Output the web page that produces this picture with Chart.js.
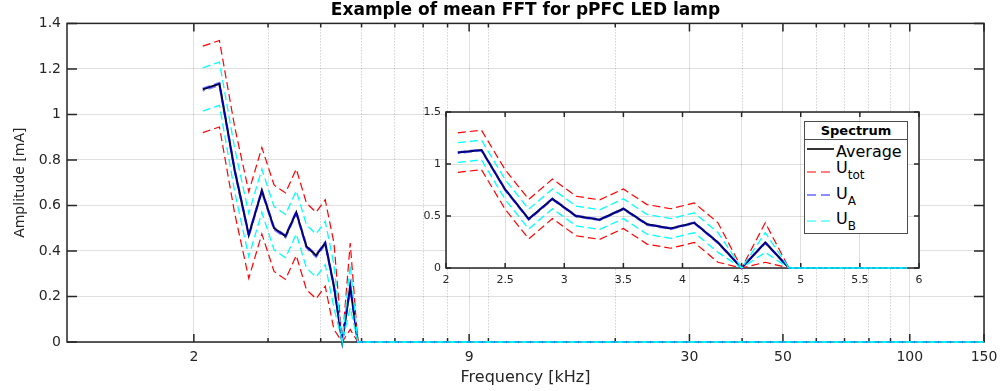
<!DOCTYPE html>
<html lang="en">
<head>
<meta charset="UTF-8">
<title>Example of mean FFT for pPFC LED lamp</title>
<script src="https://cdn.jsdelivr.net/npm/chart.js@4.4.0/dist/chart.umd.min.js"></script>
<style>
  body { margin: 0; background: #fff; overflow: hidden; }
  #wrap { position: relative; width: 1003px; height: 391px; }
  #main { position: absolute; left: 0; top: 0; }
  #inset { position: absolute; left: 410px; top: 100px; }
  #legend {
    position: absolute; left: 804px; top: 121px; width: 104px; height: 113px;
    box-sizing: border-box; border: 1px solid #4d4d4d; background: #fff;
    font-family: 'DejaVu Sans', sans-serif; color: #000;
  }
  #legend .ttl {
    position: absolute; left: 0; top: 0; width: 102px; height: 17px; line-height: 17px;
    text-align: center; font-weight: bold; font-size: 13px; border-bottom: 1px solid #4d4d4d;
  }
  #legend .row { position: absolute; left: 31px; height: 20px; line-height: 20px; font-size: 16px; white-space: nowrap; }
  #legend .row span { font-size: 12px; position: relative; top: 6px; }
  #legend svg { position: absolute; left: 2px; }
</style>
</head>
<body>
<div id="wrap">
  <canvas id="main" width="1003" height="391"></canvas>
  <canvas id="inset" width="520" height="195"></canvas>
  <div id="legend">
    <div class="ttl">Spectrum</div>
    <svg width="27" height="6" style="top:24px"><line x1="0" y1="3" x2="27" y2="3" stroke="#000" stroke-width="1.6"/></svg>
    <div class="row" style="top:20px">Average</div>
    <svg width="27" height="6" style="top:47px"><line x1="0" y1="3" x2="27" y2="3" stroke="#ff0000" stroke-width="1" stroke-dasharray="9 5"/></svg>
    <div class="row" style="top:36px">U<span>tot</span></div>
    <svg width="27" height="6" style="top:70px"><line x1="0" y1="3" x2="27" y2="3" stroke="rgba(0,0,255,0.45)" stroke-width="2.2" stroke-dasharray="9 5"/></svg>
    <div class="row" style="top:62px">U<span>A</span></div>
    <svg width="27" height="6" style="top:96px"><line x1="0" y1="3" x2="27" y2="3" stroke="#00ffff" stroke-width="1" stroke-dasharray="9 5"/></svg>
    <div class="row" style="top:87px">U<span>B</span></div>
  </div>
</div>
<script>
// frequency bins [kHz]; the last bin closes the zero level at the end of the axis
const freqs   = [2.1, 2.3, 2.5, 2.7, 2.9, 3.1, 3.3, 3.5, 3.7, 3.9, 4.1, 4.3, 4.5, 4.7, 4.9, 5.1, 5.3, 5.5, 5.7, 5.9, 150];
// mean amplitude [mA]
const average = [1.11, 1.135, 0.755, 0.47, 0.665, 0.5, 0.465, 0.57, 0.42, 0.38, 0.435, 0.245, 0, 0.245, 0, 0, 0, 0, 0, 0, 0];
// uncertainty bounds
const uTotHi  = [1.3, 1.325, 0.945, 0.66, 0.855, 0.69, 0.655, 0.76, 0.61, 0.57, 0.625, 0.435, 0, 0.435, 0, 0, 0, 0, 0, 0, 0];
const uTotLo  = [0.92, 0.945, 0.565, 0.28, 0.475, 0.31, 0.275, 0.38, 0.23, 0.19, 0.245, 0.055, 0, 0.055, 0, 0, 0, 0, 0, 0, 0];
const uAHi    = [1.114, 1.139, 0.759, 0.474, 0.669, 0.504, 0.469, 0.574, 0.424, 0.384, 0.439, 0.249, 0, 0.249, 0, 0, 0, 0, 0, 0, 0];
const uALo    = [1.104, 1.129, 0.749, 0.464, 0.659, 0.494, 0.459, 0.564, 0.414, 0.374, 0.429, 0.239, 0, 0.239, 0, 0, 0, 0, 0, 0, 0];
const uBHi    = [1.205, 1.23, 0.85, 0.565, 0.76, 0.595, 0.56, 0.665, 0.515, 0.475, 0.53, 0.34, 0, 0.34, 0, 0, 0, 0, 0, 0, 0];
const uBLo    = [1.015, 1.04, 0.66, 0.375, 0.57, 0.405, 0.37, 0.475, 0.325, 0.285, 0.34, 0.15, 0, 0.15, 0, 0, 0, 0, 0, 0, 0];

// axis ticks
const mainXLabels = [2, 9, 30, 50, 100, 150];
const mainXMinor  = [3, 4, 5, 6, 7, 8, 10, 20, 40, 60, 70, 80, 90];
const mainYTicks  = [0, 0.2, 0.4, 0.6, 0.8, 1, 1.2, 1.4];
const insetXTicks = [2, 2.5, 3, 3.5, 4, 4.5, 5, 5.5, 6];
const insetYTicks = [0, 0.5, 1, 1.5];

const FONT = "'DejaVu Sans', sans-serif";
const TXT = '#262626';
const GRID = 'rgba(38,38,38,0.15)';
const GRID_MINOR = 'rgba(38,38,38,0.3)';

function series(ys, n) {
  return ys.slice(0, n).map((y, i) => ({ x: freqs[i], y }));
}

// first dataset ends up on top: U_B over U_A over U_tot over the average
function makeDatasets(n) {
  // clip off so the zero level stays visible on top of the axis line
  const base = { pointRadius: 0, fill: false, tension: 0, clip: false };
  return [
    { ...base, label: 'U_B', data: series(uBHi, n), borderColor: '#00ffff', borderWidth: 1.3, borderDash: [8, 4] },
    { ...base, label: 'U_B', data: series(uBLo, n), borderColor: '#00ffff', borderWidth: 1.3, borderDash: [8, 4] },
    { ...base, label: 'U_A', data: series(uAHi, n), borderColor: 'rgba(0,0,255,0.5)', borderWidth: 2, borderDash: [8, 4] },
    { ...base, label: 'U_A', data: series(uALo, n), borderColor: 'rgba(0,0,255,0.5)', borderWidth: 2, borderDash: [8, 4], borderDashOffset: 6 },
    { ...base, label: 'U_tot', data: series(uTotHi, n), borderColor: '#ff0000', borderWidth: 1.2, borderDash: [8, 4] },
    { ...base, label: 'U_tot', data: series(uTotLo, n), borderColor: '#ff0000', borderWidth: 1.2, borderDash: [8, 4] },
    { ...base, label: 'Average', data: series(average, n), borderColor: '#000', borderWidth: 2 }
  ];
}

// box around the axes with inward tick marks
const axesBox = {
  id: 'axesBox',
  beforeDraw(chart, args, opts) {
    if (!opts.fill) return;
    const a = chart.chartArea;
    chart.ctx.save();
    chart.ctx.fillStyle = '#fff';
    chart.ctx.fillRect(a.left, a.top, a.right - a.left, a.bottom - a.top);
    chart.ctx.restore();
  },
  beforeDatasetsDraw(chart, args, opts) {
    const { ctx, chartArea: a, scales: { x, y } } = chart;
    ctx.save();
    ctx.strokeStyle = TXT;
    ctx.lineWidth = opts.width;
    ctx.strokeRect(a.left, a.top, a.right - a.left, a.bottom - a.top);
    ctx.beginPath();
    x.ticks.forEach(t => {
      const px = x.getPixelForValue(t.value);
      const len = t.label ? opts.xLen : opts.xMinor;
      ctx.moveTo(px, a.bottom); ctx.lineTo(px, a.bottom - len);
      ctx.moveTo(px, a.top); ctx.lineTo(px, a.top + len);
    });
    y.ticks.forEach(t => {
      const py = y.getPixelForValue(t.value);
      ctx.moveTo(a.left, py); ctx.lineTo(a.left + opts.yLen, py);
      ctx.moveTo(a.right, py); ctx.lineTo(a.right - opts.yLen, py);
    });
    ctx.stroke();
    ctx.restore();
  }
};

const fmt = v => String(+v.toFixed(2));
const isLabeled = v => mainXLabels.includes(v);

new Chart(document.getElementById('main'), {
  type: 'line',
  data: { datasets: makeDatasets(freqs.length) },
  options: {
    responsive: false,
    animation: false,
    events: [],
    layout: { padding: { right: 19 } },
    plugins: {
      legend: { display: false },
      tooltip: { enabled: false },
      title: {
        display: true,
        fullSize: false,
        text: 'Example of mean FFT for pPFC LED lamp',
        color: '#000',
        font: { family: FONT, size: 17, weight: 'bold' },
        padding: { top: 0, bottom: 3 }
      },
      axesBox: { width: 1.5, xLen: 8, xMinor: 4, yLen: 10 }
    },
    scales: {
      x: {
        type: 'logarithmic',
        min: 1,
        max: 150,
        afterBuildTicks: s => {
          s.ticks = mainXLabels.concat(mainXMinor).sort((a, b) => a - b).map(v => ({ value: v }));
        },
        afterFit: s => { s.height = 49; s.paddingLeft = 0; s.paddingRight = 0; },
        ticks: {
          autoSkip: false, maxRotation: 0, padding: 7, color: TXT,
          font: { family: FONT, size: 14 },
          callback: v => isLabeled(v) ? String(v) : ''
        },
        grid: {
          drawTicks: false,
          color: c => (c.tick && !isLabeled(c.tick.value)) ? GRID_MINOR : GRID
        },
        border: {
          display: false,
          dash: c => (c.tick && !isLabeled(c.tick.value)) ? [1, 2] : []
        },
        title: {
          display: true, text: 'Frequency [kHz]', color: TXT,
          font: { family: FONT, size: 16 }, padding: { top: 0, bottom: 4 }
        }
      },
      y: {
        min: 0,
        max: 1.4,
        afterBuildTicks: s => { s.ticks = mainYTicks.map(v => ({ value: v })); },
        afterFit: s => { s.width = 67; s.paddingTop = 0; s.paddingBottom = 0; },
        ticks: { padding: 6, color: TXT, font: { family: FONT, size: 14 }, callback: fmt },
        grid: { drawTicks: false, color: GRID },
        border: { display: false },
        title: {
          display: true, text: 'Amplitude [mA]', color: TXT,
          font: { family: FONT, size: 14 }, padding: { top: 12, bottom: 0 }
        }
      }
    }
  },
  plugins: [axesBox]
});

// zoomed view of the low-frequency part
new Chart(document.getElementById('inset'), {
  type: 'line',
  data: { datasets: makeDatasets(freqs.length - 1) },
  options: {
    responsive: false,
    animation: false,
    events: [],
    layout: { padding: { top: 12, right: 11 } },
    plugins: {
      legend: { display: false },
      tooltip: { enabled: false },
      axesBox: { fill: true, width: 1.5, xLen: 5, xMinor: 5, yLen: 5 }
    },
    scales: {
      x: {
        type: 'linear',
        min: 2,
        max: 6,
        afterBuildTicks: s => { s.ticks = insetXTicks.map(v => ({ value: v })); },
        afterFit: s => { s.height = 27; s.paddingLeft = 0; s.paddingRight = 0; },
        ticks: { autoSkip: false, maxRotation: 0, padding: 6, color: TXT, font: { family: FONT, size: 11 }, callback: fmt },
        grid: { drawTicks: false, color: GRID },
        border: { display: false }
      },
      y: {
        min: 0,
        max: 1.5,
        afterBuildTicks: s => { s.ticks = insetYTicks.map(v => ({ value: v })); },
        afterFit: s => { s.width = 36; s.paddingTop = 0; s.paddingBottom = 0; },
        ticks: { padding: 5, color: TXT, font: { family: FONT, size: 11 }, callback: fmt },
        grid: { drawTicks: false, color: GRID },
        border: { display: false }
      }
    }
  },
  plugins: [axesBox]
});
</script>
</body>
</html>
